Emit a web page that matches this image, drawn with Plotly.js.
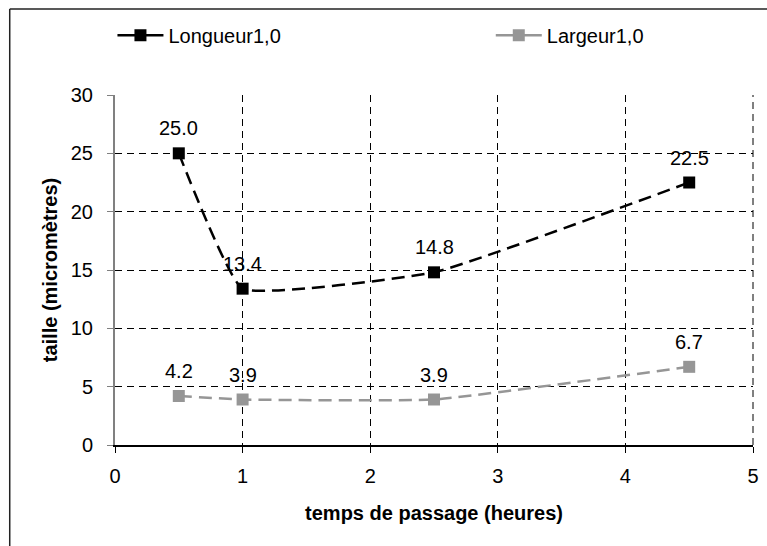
<!DOCTYPE html>
<html>
<head>
<meta charset="utf-8">
<script src="https://cdn.plot.ly/plotly-3.0.1.min.js"></script>
<style>html,body{margin:0;padding:0;background:#fff;}#chart{width:767px;height:546px;}</style>
</head>
<body>
<div id="chart"></div>
<script>
const hours = [0.5, 1, 2.5, 4.5];
const longueur = [25.0, 13.4, 14.8, 22.5];
const largeur = [4.2, 3.9, 3.9, 6.7];
const seriesNames = ["Longueur1,0", "Largeur1,0"];
const xTicks = [0, 1, 2, 3, 4, 5];
const yTicks = [0, 5, 10, 15, 20, 25, 30];

const font = "Liberation Sans, Arial, sans-serif";
const black = "#000000";
const gray = "#969696";
const FS = 20;

function fmt(v){ return v.toFixed(1); }

const lineStyle = {width: 2.5, dash: "13px,7px", shape: "spline", smoothing: 0.35};

const traces = [
  {
    x: hours, y: longueur, mode: "lines+markers", type: "scatter",
    line: Object.assign({color: black}, lineStyle),
    marker: {symbol: "square", size: 12, color: black},
    showlegend: false, cliponaxis: false
  },
  {
    x: hours, y: largeur, mode: "lines+markers", type: "scatter",
    line: Object.assign({color: gray}, lineStyle),
    marker: {symbol: "square", size: 12, color: gray},
    showlegend: false, cliponaxis: false
  },
  {
    x: [null], y: [null], name: seriesNames[0], mode: "lines+markers", type: "scatter",
    line: {color: black, width: 2.5}, marker: {symbol: "square", size: 12, color: black},
    legend: "legend"
  },
  {
    x: [null], y: [null], name: seriesNames[1], mode: "lines+markers", type: "scatter",
    line: {color: gray, width: 2.5}, marker: {symbol: "square", size: 12, color: gray},
    legend: "legend2"
  }
];

const annotations = [];
[longueur, largeur].forEach((vals) => {
  vals.forEach((v, i) => {
    annotations.push({
      x: hours[i], y: v, xref: "x", yref: "y", text: fmt(v), showarrow: false,
      yshift: 25, yanchor: "middle", xanchor: "center",
      font: {family: font, size: FS, color: black}
    });
  });
});

const legendCommon = {
  orientation: "h", yanchor: "middle", y: 1.171, xanchor: "left",
  font: {family: font, size: FS, color: black},
  itemwidth: 46, bgcolor: "rgba(0,0,0,0)"
};

const layout = {
  width: 767, height: 546,
  margin: {l: 115, r: 14, t: 95, b: 101, autoexpand: false},
  paper_bgcolor: "#fff", plot_bgcolor: "#fff",
  font: {family: font, size: FS, color: black},
  showlegend: true,
  legend: Object.assign({x: -0.004}, legendCommon),
  legend2: Object.assign({x: 0.589}, legendCommon),
  xaxis: {
    range: [0, 5], tickvals: xTicks, ticktext: xTicks.map(String),
    showgrid: true, gridcolor: black, gridwidth: 1, griddash: "7px,5px",
    zeroline: false, showline: true, linecolor: black, linewidth: 1.5,
    ticks: "outside", ticklen: 6, tickcolor: black,
    ticklabelstandoff: 6,
    tickfont: {family: font, size: FS, color: black},
    title: {text: "temps de passage (heures)", font: {family: font, size: FS, color: black, weight: "bold"}, standoff: 20},
    fixedrange: true
  },
  yaxis: {
    range: [0, 30], tickvals: yTicks, ticktext: yTicks.map(String),
    showgrid: true, gridcolor: black, gridwidth: 1, griddash: "7px,5px",
    zeroline: false, showline: true, linecolor: "#808080", linewidth: 2,
    ticks: "outside", ticklen: 6, tickcolor: "#808080",
    ticklabelstandoff: 10,
    tickfont: {family: font, size: FS, color: black},
    title: {text: "taille (micromètres)", font: {family: font, size: FS, color: black, weight: "bold"}, standoff: 8},
    fixedrange: true
  },
  annotations: annotations,
  shapes: [
    {type: "line", xref: "paper", yref: "paper", x0: -0.165, x1: 1.2, y0: 1.2457, y1: 1.2457, line: {color: "#222", width: 1.5}},
    {type: "line", xref: "paper", yref: "paper", x0: -0.165, x1: -0.165, y0: 1.2457, y1: -0.4, line: {color: "#222", width: 1.5}},
    {type: "line", xref: "paper", yref: "paper", x0: 1, x1: 1, y0: 0, y1: 1, line: {color: black, width: 1, dash: "7px,5px"}}
  ]
};

Plotly.newPlot("chart", traces, layout, {displayModeBar: false, staticPlot: true});
</script>
</body>
</html>
